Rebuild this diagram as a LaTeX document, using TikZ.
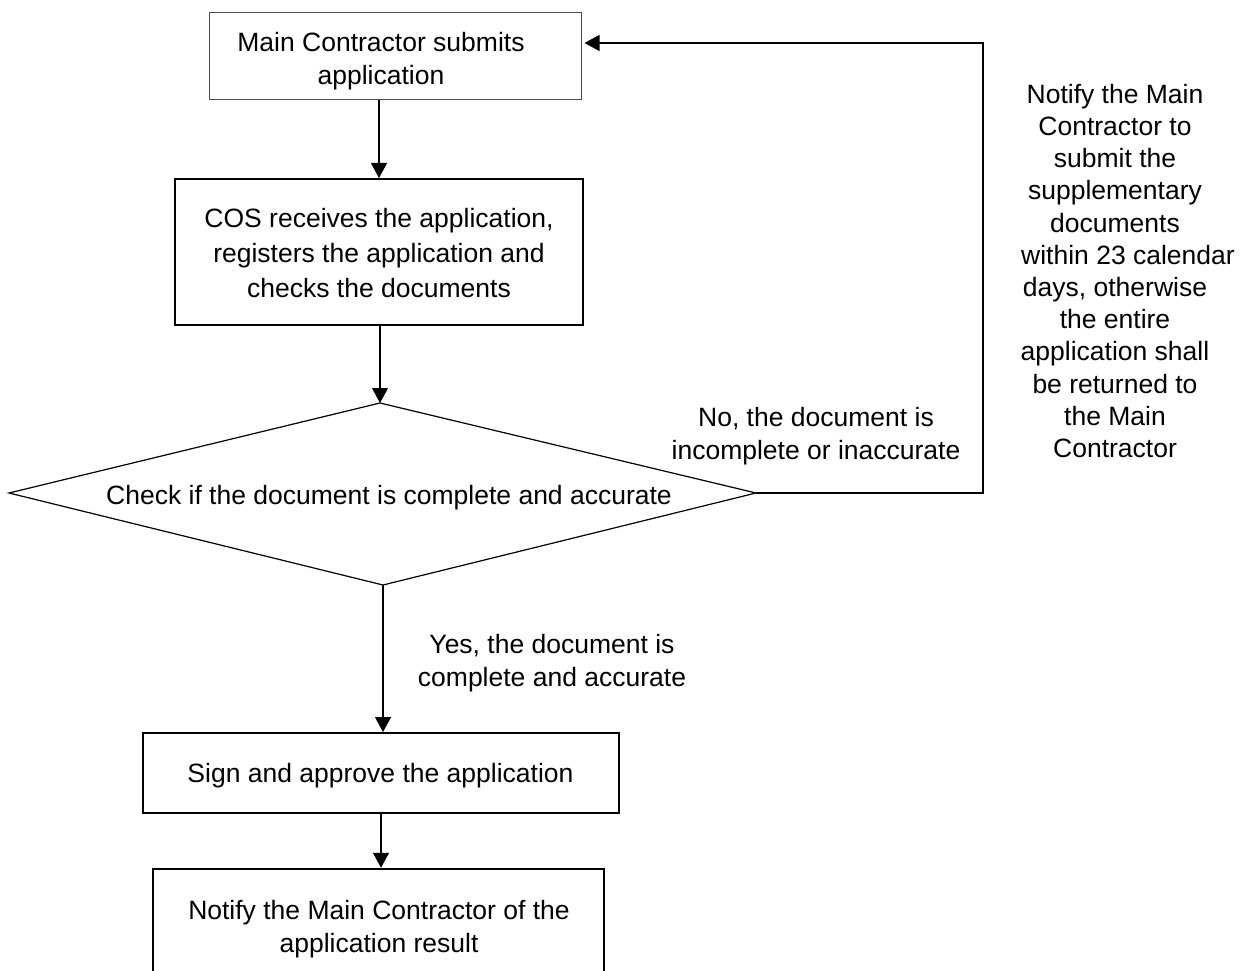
\documentclass[tikz,border=0pt]{standalone}
\usepackage{fontspec}
\setmainfont{Liberation Sans}
\usetikzlibrary{arrows.meta,calc}
\begin{document}
\begin{tikzpicture}[x=1pt,y=-1pt,
  every node/.style={font=\fontsize{26.5}{33}\selectfont, align=center, inner sep=0pt},
  box/.style={draw=black, rectangle, inner sep=0pt},
  arr/.style={draw=black, line width=1.2pt, -{Triangle[length=15pt,width=16pt]}},
  conn/.style={draw=black, line width=1.2pt}]
\useasboundingbox (0,0) rectangle (1245,971);
\clip (0,0) rectangle (1245,971);
% boxes
\node[box, line width=1pt, draw=black!70, minimum width=372pt, minimum height=87pt] (n1) at (395,56.5) {};
\node (n1t) at (381,61) {Main Contractor submits\\application};
\node[box, line width=2pt, minimum width=408pt, minimum height=146pt] (n2) at (379,252) {};
\node[font=\fontsize{26.5}{35}\selectfont] (n2t) at (379,253) {COS receives the application,\\registers the application and\\checks the documents};
% diamond
\coordinate (dN) at (380,403);
\coordinate (dS) at (383,585);
\coordinate (dW) at (9,493);
\coordinate (dE) at (756,493);
\draw[line width=1.2pt] (dN) -- (dE) -- (dS) -- (dW) -- cycle;
\node (dt) at (389,498) {Check if the document is complete and accurate};
\node[box, line width=2pt, minimum width=476pt, minimum height=80pt] (n3) at (381,773) {};
\node (n3t) at (380.5,776) {Sign and approve the application};
\node[box, line width=2.5pt, minimum width=451pt, minimum height=117pt] (n4) at (378.5,927.5) {};
\node (n4t) at (379,929) {Notify the Main Contractor of the\\application result};
% labels
\node (no) at (816,436) {No, the document is\\incomplete or inaccurate};
\node (yes) at (552,663) {Yes, the document is\\complete and accurate};
\node[font=\fontsize{26.5}{32.2}\selectfont] (note) at (1115,271) {Notify the Main\\Contractor to\\submit the\\supplementary\\documents\\\hspace*{26pt}within 23 calendar\\days, otherwise\\the entire\\application shall\\be returned to\\the Main\\Contractor};
% connectors
\draw[arr] (n2.north |- n1.south) -- (n2.north);
\draw[arr] (dN |- n2.south) -- (dN);
\draw[arr] (dS) -- (dS |- n3.north);
\draw[arr] (n3.south) -- (n3.south |- n4.north);
\coordinate (loop) at (983,43);
\draw[arr, shorten >=3pt] (dE) -| (loop) -- (n1.east |- loop);
\end{tikzpicture}
\end{document}
